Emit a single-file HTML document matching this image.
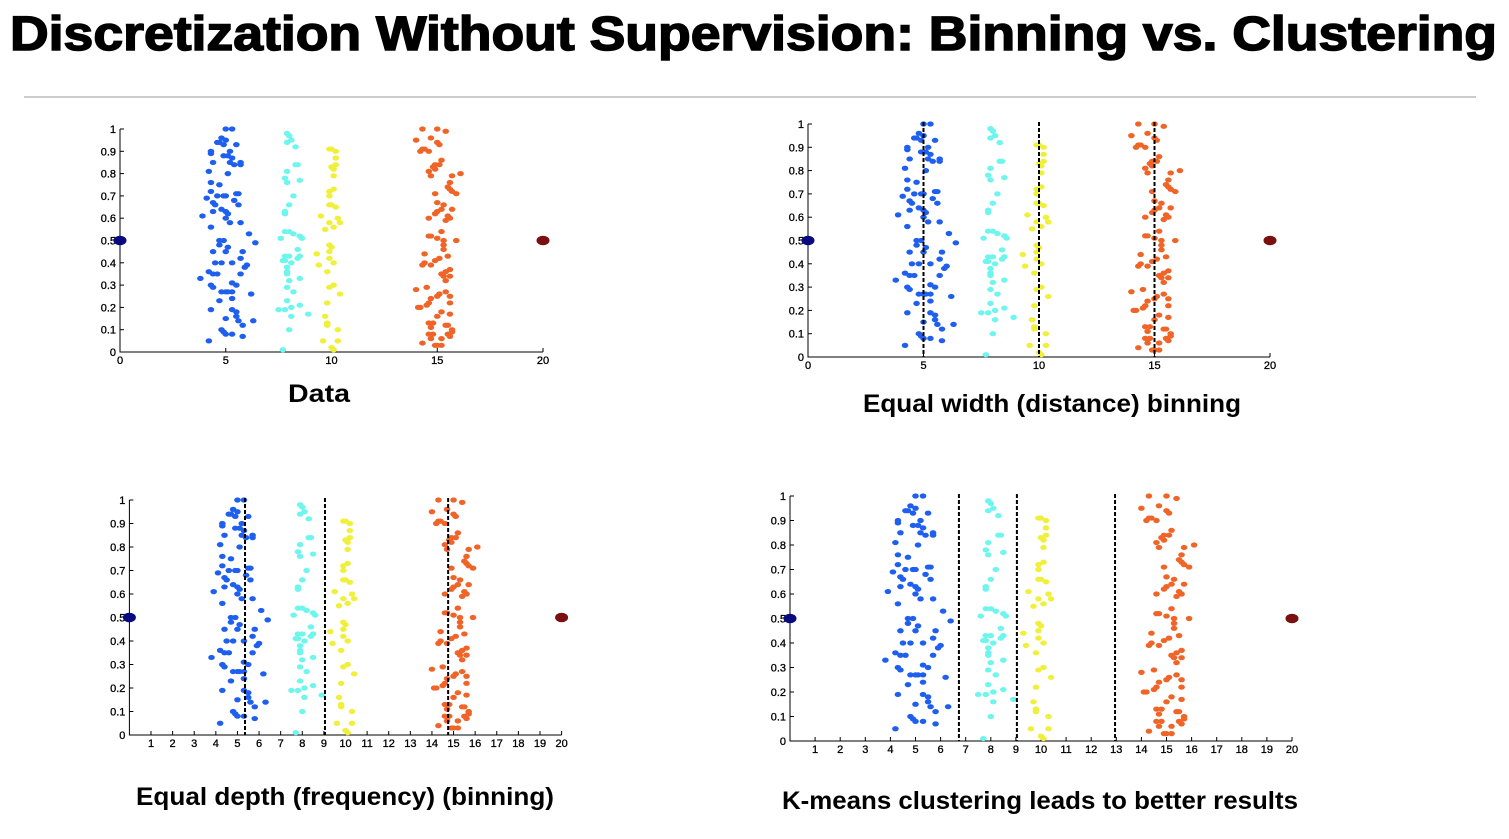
<!DOCTYPE html>
<html><head><meta charset="utf-8"><style>
html,body{margin:0;padding:0;background:#fff;}
svg{display:block;font-family:"Liberation Sans",sans-serif;}
</style></head><body>
<svg id="root" width="1509" height="839" viewBox="0 0 1509 839">
<text x="10" y="50" font-size="48" font-weight="bold" stroke="#000" stroke-width="1.5" textLength="1487" lengthAdjust="spacingAndGlyphs">Discretization Without Supervision: Binning vs. Clustering</text>
<line x1="24" y1="97" x2="1476" y2="97" stroke="#bbb" stroke-width="1.5"/>
</svg>
<script>
const blue=[[5.0,1.0],[5.3,1.0],[4.8,0.96],[5.0,0.95],[4.6,0.94],[4.7,0.94],[4.9,0.93],[5.5,0.93],[4.3,0.9],[4.3,0.89],[5.2,0.9],[4.9,0.88],[5.1,0.88],[5.3,0.87],[4.4,0.85],[5.2,0.85],[5.7,0.85],[5.4,0.84],[5.7,0.84],[4.2,0.81],[5.1,0.8],[4.3,0.76],[4.7,0.75],[4.3,0.72],[5.5,0.71],[5.6,0.71],[4.1,0.69],[4.6,0.7],[4.9,0.7],[5.0,0.7],[4.4,0.67],[4.5,0.66],[4.8,0.64],[5.0,0.63],[5.1,0.62],[5.4,0.68],[5.6,0.66],[3.9,0.61],[4.4,0.63],[5.0,0.6],[5.2,0.58],[5.7,0.58],[4.3,0.56],[6.1,0.53],[6.4,0.49],[4.7,0.5],[4.9,0.5],[4.7,0.48],[5.1,0.47],[4.4,0.45],[5.0,0.45],[5.8,0.45],[5.7,0.42],[4.5,0.4],[4.8,0.4],[5.3,0.4],[5.9,0.38],[6.0,0.39],[4.2,0.36],[4.4,0.35],[4.6,0.35],[5.7,0.35],[3.8,0.33],[4.3,0.3],[5.3,0.31],[5.5,0.3],[4.4,0.29],[4.8,0.27],[5.0,0.27],[5.1,0.27],[5.3,0.27],[6.2,0.26],[4.7,0.23],[5.3,0.24],[4.3,0.19],[5.3,0.19],[5.5,0.18],[5.5,0.16],[5.0,0.15],[5.6,0.14],[6.3,0.14],[5.8,0.12],[4.8,0.1],[4.9,0.09],[5.0,0.08],[5.3,0.08],[5.8,0.07],[4.2,0.05]];
const cyan=[[7.9,0.98],[8.0,0.97],[8.1,0.95],[7.9,0.94],[8.3,0.92],[8.3,0.84],[8.4,0.84],[7.9,0.81],[7.8,0.78],[8.5,0.77],[7.9,0.76],[8.2,0.7],[8.0,0.66],[7.8,0.62],[7.8,0.63],[7.8,0.54],[8.0,0.54],[8.2,0.53],[7.6,0.51],[8.5,0.52],[8.6,0.51],[8.4,0.46],[7.8,0.43],[8.0,0.43],[8.5,0.43],[8.4,0.42],[7.7,0.41],[7.8,0.41],[8.1,0.4],[7.9,0.38],[7.9,0.36],[7.9,0.35],[8.0,0.32],[8.5,0.33],[7.9,0.29],[8.2,0.27],[7.9,0.23],[7.5,0.19],[7.8,0.19],[8.1,0.2],[8.5,0.21],[8.9,0.17],[8.1,0.16],[8.0,0.1],[7.7,0.01]];
const yellow=[[9.9,0.91],[10.0,0.91],[10.2,0.9],[10.2,0.87],[10.2,0.84],[10.0,0.83],[10.1,0.82],[10.1,0.79],[10.1,0.73],[9.9,0.72],[9.9,0.7],[9.9,0.66],[10.0,0.66],[10.2,0.65],[9.5,0.61],[10.3,0.6],[9.9,0.58],[10.4,0.58],[10.1,0.56],[9.7,0.55],[9.9,0.48],[10.0,0.47],[9.9,0.45],[9.3,0.44],[9.9,0.42],[10.1,0.4],[9.4,0.39],[9.8,0.36],[10.1,0.3],[9.9,0.29],[10.4,0.26],[9.8,0.22],[9.7,0.16],[9.8,0.13],[9.8,0.12],[10.3,0.1],[9.6,0.05],[10.3,0.05],[10.0,0.02],[10.1,0.01]];
const orange=[[14.3,1.0],[15.0,1.0],[15.4,0.99],[14.0,0.95],[14.7,0.96],[15.0,0.94],[15.1,0.93],[14.3,0.91],[14.4,0.91],[14.2,0.9],[14.6,0.9],[15.2,0.86],[14.9,0.84],[15.1,0.84],[14.8,0.83],[14.9,0.82],[14.6,0.81],[14.7,0.79],[15.7,0.79],[16.1,0.8],[15.6,0.76],[15.5,0.74],[15.6,0.73],[15.7,0.72],[15.9,0.71],[14.9,0.71],[15.0,0.67],[15.3,0.66],[15.2,0.64],[15.7,0.64],[15.0,0.63],[14.9,0.62],[15.5,0.61],[15.6,0.6],[14.6,0.6],[15.4,0.59],[15.2,0.54],[14.6,0.52],[14.7,0.52],[15.0,0.51],[15.3,0.5],[15.9,0.5],[15.3,0.48],[15.3,0.46],[14.4,0.44],[14.9,0.41],[15.1,0.42],[15.5,0.43],[14.4,0.4],[14.3,0.39],[14.7,0.39],[15.6,0.37],[15.4,0.36],[15.2,0.35],[15.3,0.34],[15.6,0.34],[15.4,0.32],[14.0,0.28],[14.5,0.29],[15.4,0.27],[15.1,0.26],[15.0,0.25],[15.6,0.25],[14.7,0.24],[14.6,0.22],[15.6,0.22],[14.1,0.2],[14.2,0.2],[14.5,0.21],[15.2,0.18],[15.0,0.16],[15.6,0.17],[14.6,0.13],[14.8,0.13],[15.4,0.12],[15.5,0.12],[14.7,0.11],[15.7,0.1],[15.7,0.09],[15.5,0.08],[14.6,0.08],[14.8,0.08],[15.6,0.07],[14.7,0.06],[15.2,0.06],[14.3,0.04],[14.9,0.03],[15.0,0.03],[15.2,0.03]];
const outliers=[[0,0.5],[20,0.5]];
const yTicks=[0,0.1,0.2,0.3,0.4,0.5,0.6,0.7,0.8,0.9,1];
const xTicksCoarse=[0,5,10,15,20];
const xTicksFine=[1,2,3,4,5,6,7,8,9,10,11,12,13,14,15,16,17,18,19,20];
const cutsWidth=[5,10,15];
const cutsDepth=[5.35,9.05,14.75];
const cutsKmeans=[6.73,9.04,12.95];
const panelTitles=["Data","Equal width (distance) binning","Equal depth (frequency) (binning)","K-means clustering leads to better results"];

const NS="http://www.w3.org/2000/svg";
const root=document.getElementById('root');
function mk(tag,attrs,parent){const e=document.createElementNS(NS,tag);for(const k in attrs)e.setAttribute(k,attrs[k]);(parent||root).appendChild(e);return e;}

const panels=[
 {x0:120,x1:543,yTop:129,yBot:352,ticks:xTicksCoarse,cuts:[],tx:319,ty:402,tw:62,name:'data'},
 {x0:808,x1:1270,yTop:124,yBot:357,ticks:xTicksCoarse,cuts:cutsWidth,tx:1052,ty:412,tw:378,name:'equal-width'},
 {x0:129.4,x1:561.6,yTop:500,yBot:735,ticks:xTicksFine,cuts:cutsDepth,tx:345,ty:805,tw:418,name:'equal-depth'},
 {x0:790,x1:1292,yTop:496,yBot:741,ticks:xTicksFine,cuts:cutsKmeans,tx:1040,ty:809,tw:516,name:'kmeans'}
];
panels.forEach((p,i)=>{
 const g=mk('g',{});
 
 
 const X=v=>p.x0+(p.x1-p.x0)*v/20;
 const Y=v=>p.yBot-(p.yBot-p.yTop)*v;
 const ax=mk('path',{d:`M${p.x0} ${p.yTop}V${p.yBot}H${p.x1}`,stroke:'#000','stroke-width':1,fill:'none'},g);
 
 
 yTicks.forEach(t=>{
  mk('line',{x1:p.x0,x2:p.x0+4,y1:Y(t),y2:Y(t),stroke:'#000'},g);
  const l=mk('text',{x:p.x0-4,y:Y(t)+4,'font-size':11,'text-anchor':'end',stroke:'#000','stroke-width':0.3},g);
  l.textContent=String(t);
  
  
 });
 p.ticks.forEach(t=>{
  mk('line',{x1:X(t),x2:X(t),y1:p.yBot,y2:p.yBot-4,stroke:'#000'},g);
  const l=mk('text',{x:X(t),y:p.yBot+12,'font-size':11,'text-anchor':'middle',stroke:'#000','stroke-width':0.3},g);
  l.textContent=String(t);
  
  
 });
 const series=[[blue,'#1f5ff0'],[cyan,'#6ef5ee'],[yellow,'#f0f03a'],[orange,'#f06428']];
 series.forEach(([arr,c])=>arr.forEach(([x,y])=>{
  const d=mk('ellipse',{cx:X(x),cy:Y(y),rx:3.3,ry:2.6,fill:c},g);
  
  
 }));
 outliers.forEach(([x,y],k)=>{
  const d=mk('ellipse',{cx:X(x),cy:Y(y),rx:6.5,ry:4.8,fill:k?'#7a1010':'#0a0a80'},g);
  
  
 });
 p.cuts.forEach(c=>{
  const l=mk('line',{x1:X(c),x2:X(c),y1:p.yTop-2,y2:p.yBot,stroke:'#000','stroke-width':2,'stroke-dasharray':'4,2'},g);
  
  
 });
 const t=mk('text',{x:p.tx-p.tw/2,y:p.ty,'font-size':25,'font-weight':'bold',textLength:p.tw,lengthAdjust:'spacingAndGlyphs'},g);
 t.textContent=panelTitles[i];
 
 
});
</script>
</body></html>
